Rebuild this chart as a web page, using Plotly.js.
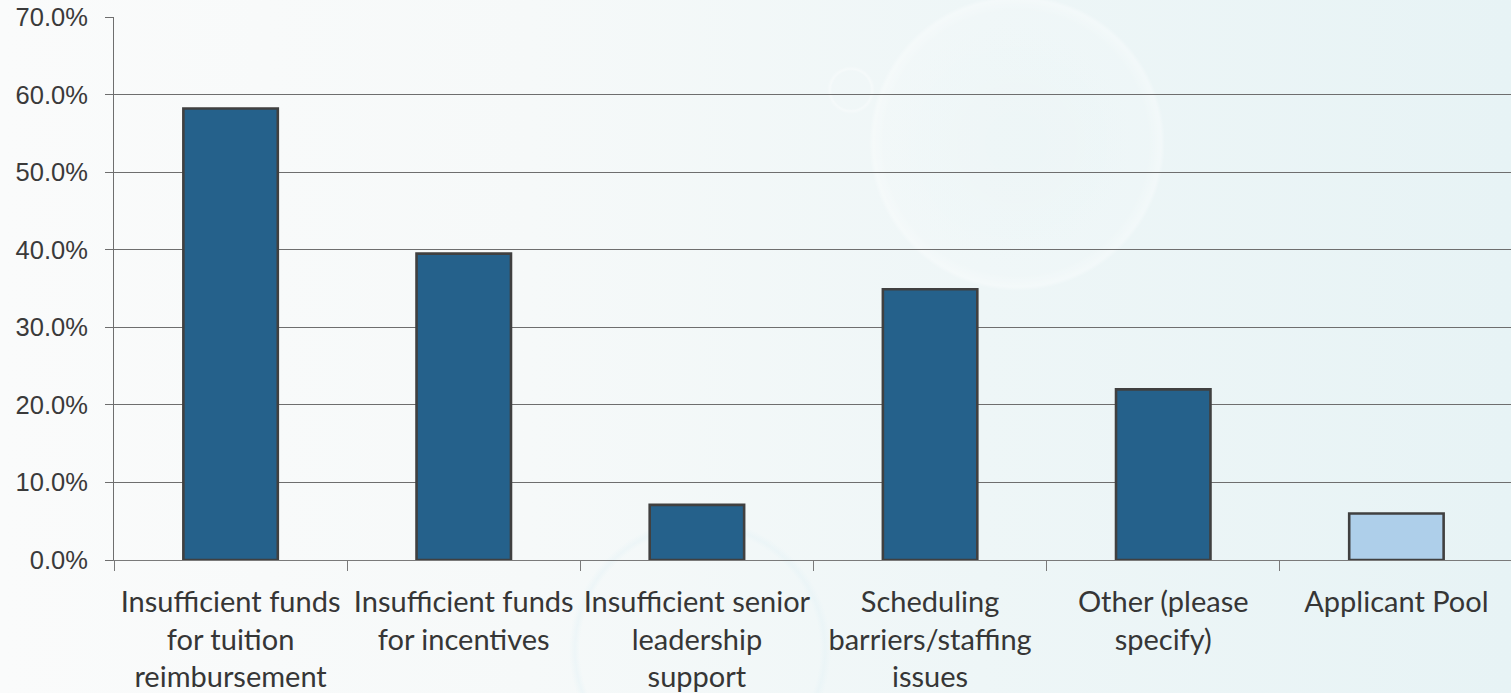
<!DOCTYPE html>
<html>
<head>
<meta charset="utf-8">
<script src="https://cdn.plot.ly/plotly-3.0.1.min.js"></script>
<style>
  html, body { margin: 0; padding: 0; overflow: hidden; width: 1511px; height: 693px; }
  body {
    background:
      radial-gradient(circle at 1017px 143px, rgba(255,255,255,0) 0px, rgba(255,255,255,0.12) 132px, rgba(255,255,255,0.3) 141px, rgba(255,255,255,0.35) 144px, rgba(255,255,255,0) 148px),
      radial-gradient(circle at 851px 90px, rgba(255,255,255,0) 19px, rgba(255,255,255,0.35) 21px, rgba(255,255,255,0) 24px),
      radial-gradient(circle at 700px 650px, rgba(255,255,255,0) 120px, rgba(228,242,246,0.45) 125px, rgba(255,255,255,0) 131px),
      linear-gradient(to right, #fafbfb 0%, #f6f9f9 35%, #eef6f7 65%, #e7f3f5 100%);
  }
  #chart { width: 1513px; height: 693px; }
</style>
</head>
<body>
<div id="chart"></div>
<script>
const categories = [
  "Insufficient funds<br>for tuition<br>reimbursement",
  "Insufficient funds<br>for incentives",
  "Insufficient senior<br>leadership<br>support",
  "Scheduling<br>barriers/staffing<br>issues",
  "Other (please<br>specify)",
  "Applicant Pool"
];
const values = [58.2, 39.5, 7.1, 34.9, 22.0, 6.0];
const barColors = ["#25618B", "#25618B", "#25618B", "#25618B", "#25618B", "#AECFEA"];
const yTickVals = [0, 10, 20, 30, 40, 50, 60, 70];

const trace = {
  type: "bar",
  x: categories,
  y: values,
  marker: { color: barColors, line: { color: "#404040", width: 2.6 } },
  hoverinfo: "x+y"
};

const layout = {
  width: 1513,
  height: 693,
  margin: { l: 113.5, r: 0, t: 17, b: 132.5 },
  paper_bgcolor: "rgba(0,0,0,0)",
  plot_bgcolor: "rgba(0,0,0,0)",
  bargap: 0.595,
  showlegend: false,
  xaxis: {
    type: "category",
    tickson: "boundaries",
    ticks: "outside",
    ticklen: 10,
    tickcolor: "#7a7a7a",
    tickwidth: 1,
    showline: true,
    linecolor: "#7a7a7a",
    linewidth: 1,
    showgrid: false,
    tickangle: 0,
    automargin: false,
    tickfont: { family: "Lato, 'Open Sans', sans-serif", size: 29, color: "#363636" },
    ticklabelstandoff: 16
  },
  yaxis: {
    range: [0, 70],
    tickvals: yTickVals,
    ticktext: yTickVals.map(v => v.toFixed(1) + "%"),
    ticks: "outside",
    ticklen: 8,
    tickcolor: "#6e6e6e",
    tickwidth: 1,
    showline: true,
    linecolor: "#6e6e6e",
    linewidth: 1,
    showgrid: true,
    gridcolor: "#6e6e6e",
    gridwidth: 1,
    zeroline: false,
    automargin: false,
    tickfont: { family: "'Liberation Sans', Arial, sans-serif", size: 25.5, color: "#3a3a3a" },
    ticklabelstandoff: 12
  }
};

Plotly.newPlot("chart", [trace], layout, { displayModeBar: false, staticPlot: true });
</script>
</body>
</html>
